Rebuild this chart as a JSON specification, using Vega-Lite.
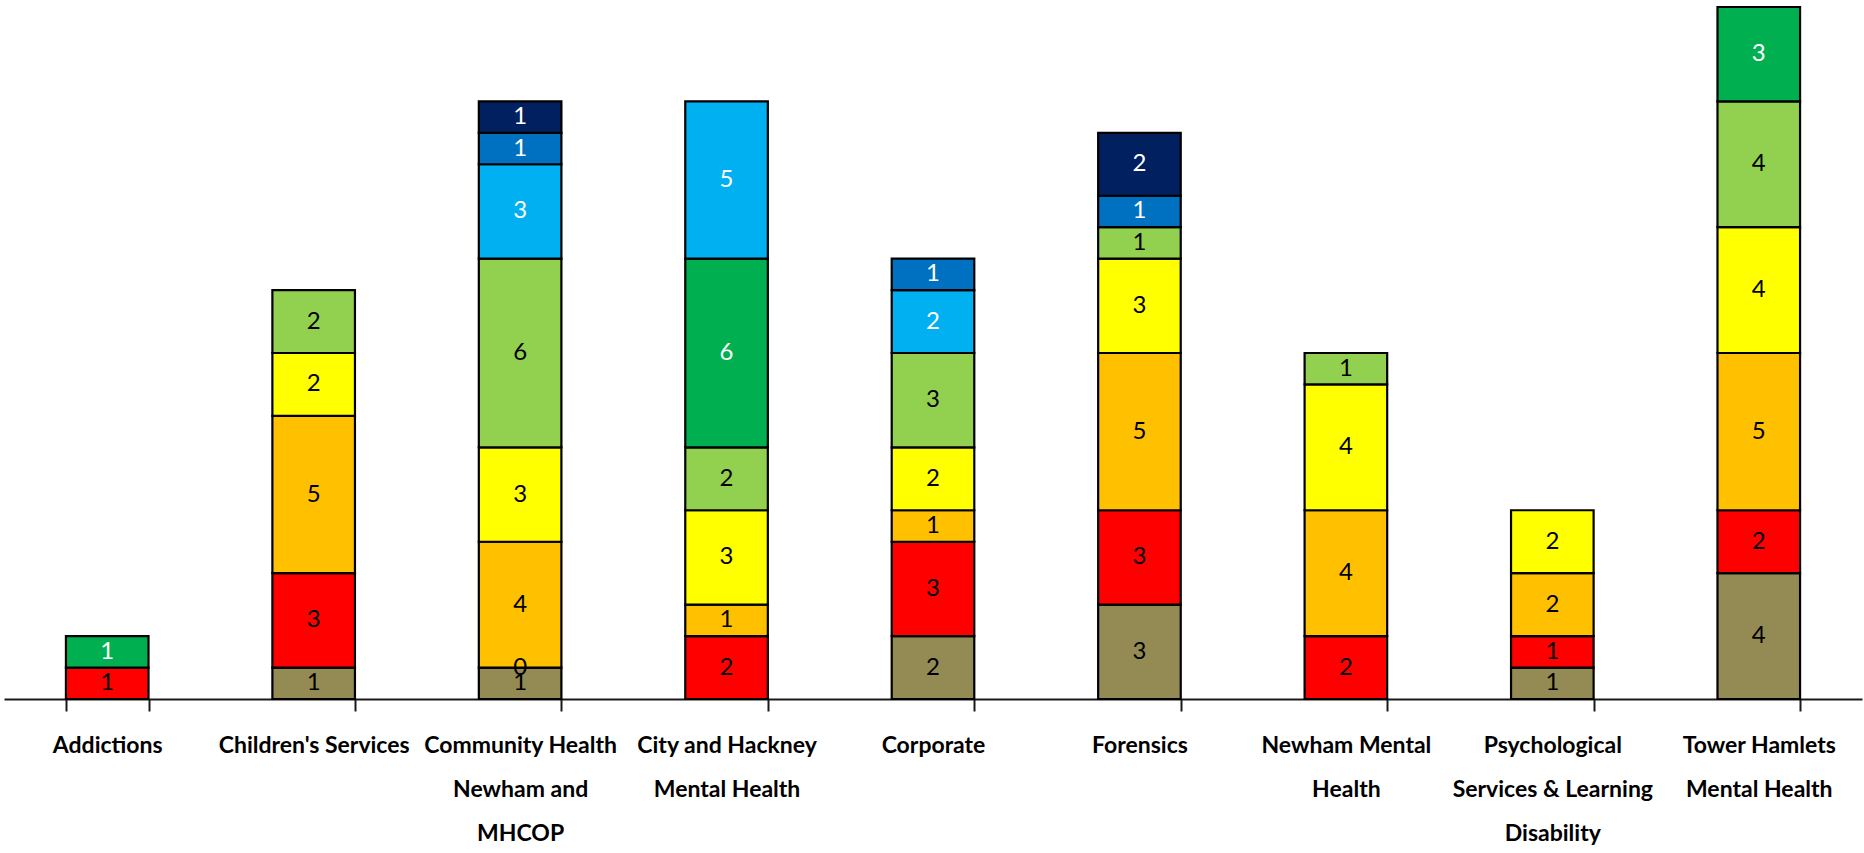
{
  "$schema": "https://vega.github.io/schema/vega-lite/v6.json",
  "autosize": {"type": "none"},
  "width": 1858,
  "height": 692,
  "padding": {"left": 4, "top": 7, "right": 2, "bottom": 154},
  "background": "white",
  "config": {
    "view": {"stroke": null},
    "font": "Lato"
  },
  "data": {
    "values": [
      {"unit": "Addictions", "band": "Band 2", "value": 1},
      {"unit": "Addictions", "band": "Band 6", "value": 1},

      {"unit": "Children's Services", "band": "Band 1", "value": 1},
      {"unit": "Children's Services", "band": "Band 2", "value": 3},
      {"unit": "Children's Services", "band": "Band 3", "value": 5},
      {"unit": "Children's Services", "band": "Band 4", "value": 2},
      {"unit": "Children's Services", "band": "Band 5", "value": 2},

      {"unit": "Community Health Newham and MHCOP", "band": "Band 1", "value": 1},
      {"unit": "Community Health Newham and MHCOP", "band": "Band 2", "value": 0},
      {"unit": "Community Health Newham and MHCOP", "band": "Band 3", "value": 4},
      {"unit": "Community Health Newham and MHCOP", "band": "Band 4", "value": 3},
      {"unit": "Community Health Newham and MHCOP", "band": "Band 5", "value": 6},
      {"unit": "Community Health Newham and MHCOP", "band": "Band 7", "value": 3},
      {"unit": "Community Health Newham and MHCOP", "band": "Band 8", "value": 1},
      {"unit": "Community Health Newham and MHCOP", "band": "Band 9", "value": 1},

      {"unit": "City and Hackney Mental Health", "band": "Band 2", "value": 2},
      {"unit": "City and Hackney Mental Health", "band": "Band 3", "value": 1},
      {"unit": "City and Hackney Mental Health", "band": "Band 4", "value": 3},
      {"unit": "City and Hackney Mental Health", "band": "Band 5", "value": 2},
      {"unit": "City and Hackney Mental Health", "band": "Band 6", "value": 6},
      {"unit": "City and Hackney Mental Health", "band": "Band 7", "value": 5},

      {"unit": "Corporate", "band": "Band 1", "value": 2},
      {"unit": "Corporate", "band": "Band 2", "value": 3},
      {"unit": "Corporate", "band": "Band 3", "value": 1},
      {"unit": "Corporate", "band": "Band 4", "value": 2},
      {"unit": "Corporate", "band": "Band 5", "value": 3},
      {"unit": "Corporate", "band": "Band 7", "value": 2},
      {"unit": "Corporate", "band": "Band 8", "value": 1},

      {"unit": "Forensics", "band": "Band 1", "value": 3},
      {"unit": "Forensics", "band": "Band 2", "value": 3},
      {"unit": "Forensics", "band": "Band 3", "value": 5},
      {"unit": "Forensics", "band": "Band 4", "value": 3},
      {"unit": "Forensics", "band": "Band 5", "value": 1},
      {"unit": "Forensics", "band": "Band 8", "value": 1},
      {"unit": "Forensics", "band": "Band 9", "value": 2},

      {"unit": "Newham Mental Health", "band": "Band 2", "value": 2},
      {"unit": "Newham Mental Health", "band": "Band 3", "value": 4},
      {"unit": "Newham Mental Health", "band": "Band 4", "value": 4},
      {"unit": "Newham Mental Health", "band": "Band 5", "value": 1},

      {"unit": "Psychological Services & Learning Disability", "band": "Band 1", "value": 1},
      {"unit": "Psychological Services & Learning Disability", "band": "Band 2", "value": 1},
      {"unit": "Psychological Services & Learning Disability", "band": "Band 3", "value": 2},
      {"unit": "Psychological Services & Learning Disability", "band": "Band 4", "value": 2},

      {"unit": "Tower Hamlets Mental Health", "band": "Band 1", "value": 4},
      {"unit": "Tower Hamlets Mental Health", "band": "Band 2", "value": 2},
      {"unit": "Tower Hamlets Mental Health", "band": "Band 3", "value": 5},
      {"unit": "Tower Hamlets Mental Health", "band": "Band 4", "value": 4},
      {"unit": "Tower Hamlets Mental Health", "band": "Band 5", "value": 4},
      {"unit": "Tower Hamlets Mental Health", "band": "Band 6", "value": 3}
    ]
  },
  "transform": [
    {
      "stack": "value",
      "groupby": ["unit"],
      "sort": [{"field": "band", "order": "ascending"}],
      "as": ["lo", "hi"]
    }
  ],
  "encoding": {
    "x": {
      "field": "unit",
      "type": "nominal",
      "sort": null,
      "scale": {"paddingInner": 0.6, "paddingOuter": 0.3},
      "axis": {
        "title": null,
        "labelAngle": 0,
        "labelFont": "Lato",
        "labelFontWeight": "bold",
        "labelFontSize": 23,
        "labelColor": "#000000",
        "labelLimit": 0,
        "labelLineHeight": 44,
        "labelBaseline": "top",
        "labelPadding": 23,
        "labelExpr": "datum.label == 'Community Health Newham and MHCOP' ? ['Community Health', 'Newham and', 'MHCOP'] : datum.label == 'City and Hackney Mental Health' ? ['City and Hackney', 'Mental Health'] : datum.label == 'Newham Mental Health' ? ['Newham Mental', 'Health'] : datum.label == 'Psychological Services & Learning Disability' ? ['Psychological', 'Services & Learning', 'Disability'] : datum.label == 'Tower Hamlets Mental Health' ? ['Tower Hamlets', 'Mental Health'] : datum.label",
        "tickBand": "extent",
        "tickSize": 12,
        "tickWidth": 2,
        "tickColor": "#1a1a1a",
        "domainColor": "#1a1a1a",
        "domainWidth": 2,
        "grid": false
      }
    },
    "y": {
      "type": "quantitative",
      "scale": {"domain": [0, 22], "nice": false, "zero": true},
      "axis": null
    }
  },
  "layer": [
    {
      "mark": {"type": "bar", "stroke": "#000000", "strokeWidth": 2.2},
      "encoding": {
        "y": {"field": "lo", "type": "quantitative"},
        "y2": {"field": "hi"},
        "fill": {
          "field": "band",
          "type": "nominal",
          "scale": {
            "domain": ["Band 1", "Band 2", "Band 3", "Band 4", "Band 5", "Band 6", "Band 7", "Band 8", "Band 9"],
            "range": ["#948A54", "#FF0000", "#FFC000", "#FFFF00", "#92D050", "#00B050", "#00B0F0", "#0070C0", "#002060"]
          },
          "legend": null
        }
      }
    },
    {
      "transform": [
        {"fold": ["lo", "hi"], "as": ["edge", "pos"]},
        {
          "aggregate": [{"op": "mean", "field": "pos", "as": "mid"}],
          "groupby": ["unit", "band", "value"]
        }
      ],
      "mark": {
        "type": "text",
        "font": "Lato",
        "fontSize": 24,
        "baseline": "middle",
        "align": "center"
      },
      "encoding": {
        "y": {"field": "mid", "type": "quantitative"},
        "text": {"field": "value", "type": "quantitative"},
        "color": {
          "condition": {
            "test": "indexof(['Band 6', 'Band 7', 'Band 8', 'Band 9'], datum.band) >= 0",
            "value": "#FFFFFF"
          },
          "value": "#000000"
        }
      }
    }
  ]
}
